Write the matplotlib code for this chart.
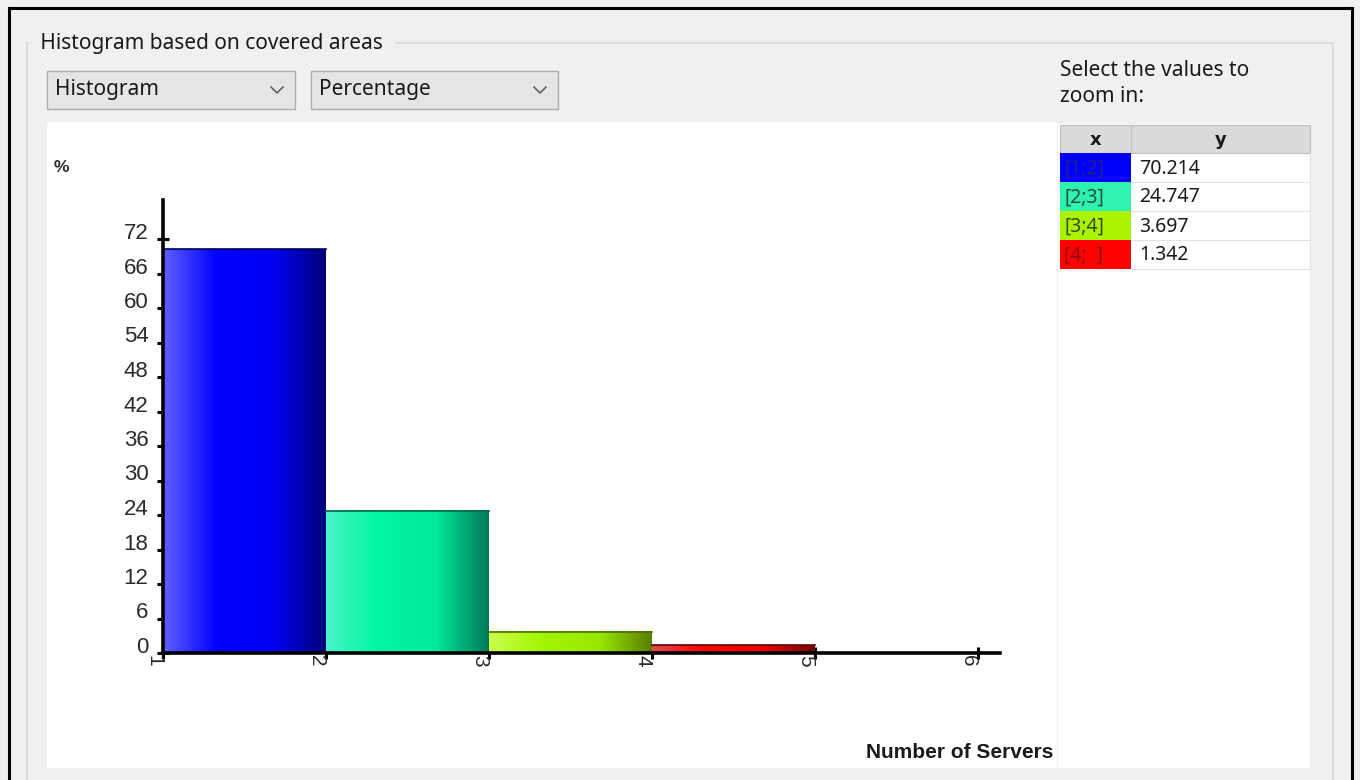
import matplotlib
matplotlib.use("Agg")
import matplotlib.pyplot as plt
import numpy as np
from matplotlib.colors import LinearSegmentedColormap
from matplotlib.patches import Rectangle
from matplotlib.transforms import ScaledTranslation

# ---- data -------------------------------------------------------------
bin_starts = [1, 2, 3, 4]
bin_ends = [2, 3, 4, 5]
bin_labels = ["[1;2]", "[2;3]", "[3;4]", "[4;  ]"]
percentages = [70.214, 24.747, 3.697, 1.342]
y_ticks = [0, 6, 12, 18, 24, 30, 36, 42, 48, 54, 60, 66, 72]
x_ticks = [1, 2, 3, 4, 5, 6]

# ---- styling ----------------------------------------------------------
bar_gradients = [
    ["#6060ff", "#0000ff", "#0000f2", "#000078"],
    ["#48f4c6", "#00f7a2", "#00e898", "#00785a"],
    ["#caff4c", "#a2f500", "#98e800", "#587e00"],
    ["#e04a4a", "#ff0000", "#f00000", "#700000"],
]
bar_edges = ["#00005a", "#00684e", "#4e7000", "#600000"]
cell_colors = ["#0000ff", "#2ef2b0", "#aaf200", "#ff0000"]
cell_text_colors = ["#20208a", "#2c4a40", "#3a4a20", "#8a1010"]

UI_FONT = ["Noto Sans", "DejaVu Sans"]
AXIS_FONT = ["Liberation Sans Narrow", "Liberation Sans", "DejaVu Sans"]
UI_SIZE = 15

W, H = 1360, 780
fig = plt.figure(figsize=(W / 100, H / 100), dpi=100)
fig.patch.set_facecolor("#f0f0f0")

# pixel-space layer for the window furniture
ui = fig.add_axes([0, 0, 1, 1], zorder=0)
ui.set_xlim(0, W)
ui.set_ylim(H, 0)
ui.axis("off")


def box(x0, y0, x1, y1, fc, ec="none", lw=1.0, z=1):
    ui.add_patch(Rectangle((x0, y0), x1 - x0, y1 - y0, facecolor=fc,
                           edgecolor=ec, linewidth=lw, zorder=z))


# window frame
ui.plot([9, 9], [8, H], color="black", lw=2.2, zorder=5)
ui.plot([9, 1352], [8, 8], color="black", lw=2.2, zorder=5)
ui.plot([1352, 1352], [8, H], color="black", lw=2.2, zorder=5)

# group box
ui.plot([27, 27, 1333, 1333], [H, 43, 43, H], color="#d9d9d9", lw=1.2, zorder=1)
ui.text(35, 44, " Histogram based on covered areas ", fontsize=UI_SIZE,
        family=UI_FONT, color="#1a1a1a", va="center", ha="left",
        backgroundcolor="#f0f0f0", zorder=2)

# combo boxes
for (x0, x1, label) in [(47, 295, "Histogram"), (311, 558, "Percentage")]:
    box(x0, 71, x1, 109, "#e5e5e5", "#adadad", 1.0, z=2)
    ui.text(x0 + 8, 90, label, fontsize=UI_SIZE, family=UI_FONT,
            color="#1a1a1a", va="center", ha="left", zorder=3)
    cx = x1 - 18
    ui.plot([cx - 6, cx, cx + 6], [87, 93, 87], color="#5a5a5a", lw=1.1,
            zorder=3)

ui.text(1060, 70, "Select the values to", fontsize=UI_SIZE, family=UI_FONT,
        color="#1a1a1a", va="center", ha="left")
ui.text(1060, 97, "zoom in:", fontsize=UI_SIZE, family=UI_FONT,
        color="#1a1a1a", va="center", ha="left")

# chart canvas and table panel
box(47, 122, 1057, 768, "white", z=1)
box(1058, 124, 1310, 768, "white", z=1)

# table of bin values
col_x = [1060, 1131, 1310]
row_h = 29
hdr_top = 125
box(col_x[0], hdr_top, col_x[2], hdr_top + 28, "#dadada", "#c0c0c0", 0.8, z=2)
ui.plot([col_x[1], col_x[1]], [hdr_top, hdr_top + 28], color="#c0c0c0",
        lw=0.8, zorder=3)
ui.text((col_x[0] + col_x[1]) / 2, hdr_top + 15, "x", fontsize=13,
        fontweight="bold", family="DejaVu Sans", ha="center", va="center",
        color="#1a1a1a", zorder=3)
ui.text((col_x[1] + col_x[2]) / 2, hdr_top + 15, "y", fontsize=13,
        fontweight="bold", family="DejaVu Sans", ha="center", va="center",
        color="#1a1a1a", zorder=3)
for i, (lab, val) in enumerate(zip(bin_labels, percentages)):
    top = hdr_top + 28 + i * row_h
    box(col_x[0], top, col_x[1], top + row_h, cell_colors[i], z=2)
    ui.plot([col_x[1], col_x[2]], [top + row_h, top + row_h],
            color="#e2e2e2", lw=0.8, zorder=3)
    ui.plot([col_x[2], col_x[2]], [top, top + row_h], color="#e2e2e2",
            lw=0.8, zorder=3)
    ui.text(col_x[0] + 4, top + row_h / 2 + 1, lab, fontsize=14,
            family=UI_FONT, color=cell_text_colors[i], ha="left",
            va="center", zorder=3)
    ui.text(col_x[1] + 8, top + row_h / 2 + 1, f"{val:.3f}", fontsize=14,
            family=UI_FONT, color="#1a1a1a", ha="left", va="center", zorder=3)

# ---- histogram --------------------------------------------------------
x_left_px, x_right_px = 163, 1000
y_zero_px, y_top_px = 653, 200
px_per_x = 163.0
px_per_y = 5.75
ax = fig.add_axes([x_left_px / W, 1 - y_zero_px / H,
                   (x_right_px - x_left_px) / W, (y_zero_px - y_top_px) / H],
                  zorder=2)
ax.set_facecolor("none")

ramp = np.linspace(0, 1, 256).reshape(1, -1)
for x0, x1, h, stops, ec in zip(bin_starts, bin_ends, percentages,
                                 bar_gradients, bar_edges):
    cmap = LinearSegmentedColormap.from_list(
        "bar", list(zip([0.0, 0.33, 0.68, 1.0], stops)))
    ax.imshow(ramp, extent=[x0, x1, 0, h], aspect="auto", cmap=cmap,
              interpolation="bilinear", zorder=2)
    ax.plot([x0, x1], [h, h], color=ec, lw=1.2, zorder=3)

ax.set_xlim(1, 1 + (x_right_px - x_left_px) / px_per_x)
ax.set_ylim(0, (y_zero_px - y_top_px) / px_per_y)

for side in ("top", "right"):
    ax.spines[side].set_visible(False)
for side in ("left", "bottom"):
    ax.spines[side].set_linewidth(2.6)
    ax.spines[side].set_color("black")
    ax.spines[side].set_zorder(4)

ax.set_xticks(x_ticks)
ax.set_xticklabels([str(t) for t in x_ticks], rotation=270, ha="right",
                   va="top", family=AXIS_FONT, fontsize=15, color="#2a2a2a")
ax.set_yticks(y_ticks)
ax.set_yticklabels([str(t) for t in y_ticks], family=AXIS_FONT, fontsize=16,
                   color="#2a2a2a")
ax.tick_params(axis="both", direction="inout", length=9, width=2.2,
               color="black")
ax.tick_params(axis="x", pad=-3)
ax.tick_params(axis="y", pad=6)
shift_up = ScaledTranslation(0, 8 / 100, fig.dpi_scale_trans)
for lbl in ax.get_yticklabels():
    lbl.set_transform(lbl.get_transform() + shift_up)

ui.text(54, 167, "%", fontsize=12.5, fontweight="bold", family=AXIS_FONT,
        color="#2a2a2a", ha="left", va="center", zorder=3)
ui.text(1053, 752, "Number of Servers", fontsize=15, fontweight="bold",
        family=AXIS_FONT, color="#1a1a1a", ha="right", va="center", zorder=3)

fig.savefig("out.png", dpi=100, facecolor=fig.get_facecolor())
